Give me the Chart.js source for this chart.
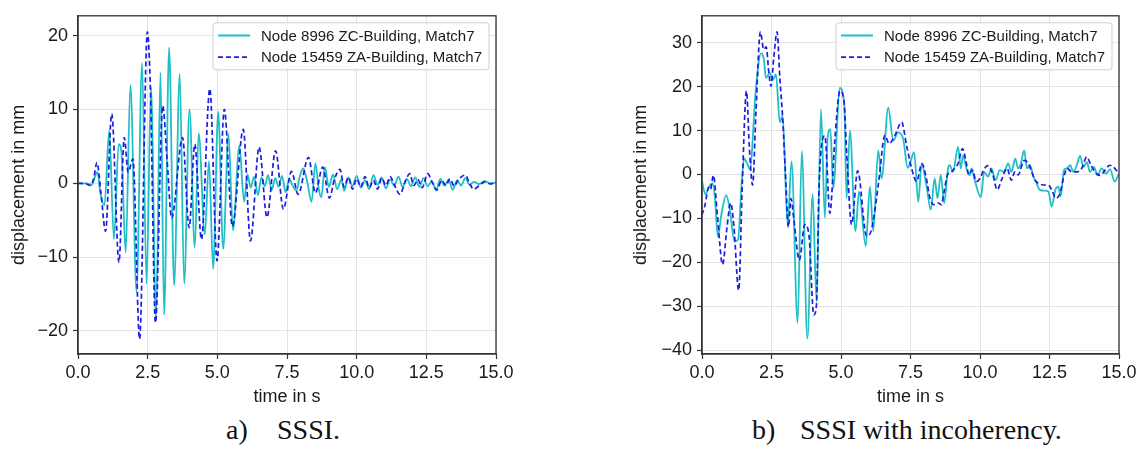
<!DOCTYPE html>
<html>
<head>
<meta charset="utf-8">
<script src="https://cdn.jsdelivr.net/npm/chart.js@4.4.0/dist/chart.umd.min.js"></script>
<style>
  body { margin: 0; background: #fff; width: 1143px; height: 450px; position: relative; overflow: hidden; }
  .plot { position: absolute; top: 0; width: 520px; height: 410px; }
  .cap { position: absolute; top: 414px; font-family: "Liberation Serif", "Times New Roman", serif; font-size: 28px; color: #111; white-space: pre; }
</style>
</head>
<body>
<div class="plot" style="left:0"><canvas id="chartA"></canvas></div>
<div class="plot" style="left:620px"><canvas id="chartB"></canvas></div>
<div class="cap" style="left:226px">a)</div>
<div class="cap" style="left:277px">SSSI.</div>
<div class="cap" style="left:752px">b)</div>
<div class="cap" style="left:800px">SSSI with incoherency.</div>

<script>
// [time in s, displacement in mm]
const sssiZC = [[0,0],[0.3,0],[0.5,-0.2],[0.62,1.0],[0.7,1.5],[0.8,-1.3],[0.95,-3.0],[1.12,7.2],[1.29,-7.6],[1.46,5.3],[1.56,4.2],[1.71,-9.4],[1.88,13.3],[2.10,-14.7],[2.30,16.3],[2.46,-13.6],[2.62,13.0],[2.80,-18.5],[2.96,15.0],[3.09,-17.8],[3.27,18.4],[3.45,-13.8],[3.65,14.8],[3.81,-13.6],[4.00,10.0],[4.19,-8.7],[4.33,6.8],[4.55,-6.9],[4.70,3.0],[4.85,-11.6],[5.03,9.7],[5.21,-8.9],[5.40,6.7],[5.56,-6.4],[5.79,5.1],[5.96,-2.5],[6.08,1.2],[6.2,-0.6],[6.32,0.9],[6.46,-1.6],[6.58,0.8],[6.7,-0.4],[6.82,1.1],[6.95,-0.9],[7.08,0.7],[7.2,-0.5],[7.32,1.0],[7.45,-1.2],[7.58,0.6],[7.7,-0.3],[7.84,-1.0],[7.95,0.8],[8.08,2.0],[8.22,0.3],[8.38,-2.5],[8.52,2.7],[8.64,-0.8],[8.73,-1.9],[8.86,2.2],[9.0,-0.5],[9.15,1.2],[9.3,-0.8],[9.45,0.5],[9.55,-1.0],[9.7,0.8],[9.85,-0.4],[10.0,1.0],[10.15,-0.6],[10.3,0.4],[10.45,-0.8],[10.6,1.1],[10.75,-0.2],[10.9,0.8],[11.05,-0.7],[11.2,0.5],[11.35,-0.3],[11.5,0.9],[11.65,-0.5],[11.8,0.6],[11.95,-0.4],[12.1,0.8],[12.25,-0.5],[12.4,0.7],[12.55,-0.4],[12.7,0.3],[12.85,-1.0],[13.0,0.6],[13.15,-0.3],[13.3,0.5],[13.45,-0.9],[13.6,0.4],[13.75,-0.3],[13.9,0.7],[14.05,-0.2],[14.2,0.2],[14.4,-0.1],[14.6,0.3],[14.8,0],[15,0.1]];
const sssiZA = [[0,0],[0.3,-0.1],[0.45,-0.3],[0.56,0.6],[0.68,2.8],[0.82,-1.2],[0.99,-6.5],[1.21,9.4],[1.47,-10.7],[1.66,6.2],[1.80,1.5],[1.97,3.3],[2.21,-21.1],[2.49,20.5],[2.60,12.5],[2.78,-18.9],[3.04,10.5],[3.20,3.0],[3.36,-4.7],[3.75,6.2],[3.99,-6.0],[4.19,5.3],[4.43,-7.6],[4.73,12.8],[4.99,-10.5],[5.25,10.0],[5.54,-5.8],[5.93,7.3],[6.19,-7.8],[6.50,4.9],[6.78,-4.6],[7.09,4.4],[7.37,-3.5],[7.66,1.6],[7.9,-1.5],[8.27,3.5],[8.52,-1.3],[8.78,2.2],[9.02,-2.0],[9.2,0.5],[9.40,1.9],[9.55,-0.5],[9.7,0.8],[9.85,-0.8],[10.0,0.6],[10.15,-0.5],[10.3,0.9],[10.45,-0.6],[10.6,0.4],[10.75,-0.8],[10.9,0.7],[11.05,-0.3],[11.2,0.9],[11.35,-0.2],[11.55,-1.5],[11.75,0.3],[11.9,1.3],[12.05,-0.3],[12.2,0.5],[12.35,-0.6],[12.55,1.3],[12.7,0.2],[12.88,-0.9],[13.05,0.4],[13.2,-0.3],[13.35,0.6],[13.5,-0.4],[13.65,0.5],[13.9,1.1],[14.05,0],[14.2,-0.8],[14.4,-0.3],[14.6,0.2],[14.8,-0.1],[15,0.2]];

const incohZC = [[0,-1.5],[0.12,-4.5],[0.25,-2.8],[0.38,-2.0],[0.46,-5.0],[0.57,-14.2],[0.7,-9.0],[0.87,-4.7],[1.0,-8.0],[1.17,-15.3],[1.30,-14.8],[1.42,-2.5],[1.52,3.6],[1.62,2.6],[1.72,1.2],[1.94,19.7],[2.12,27.6],[2.22,26.5],[2.30,22.0],[2.44,23.1],[2.54,21.5],[2.66,22.8],[2.80,11.9],[2.90,13.4],[3.08,-11.5],[3.22,3.0],[3.44,-33.8],[3.59,5.3],[3.79,-37.4],[3.98,-4.5],[4.12,-29.0],[4.28,14.9],[4.42,-9.9],[4.52,8.5],[4.62,10.3],[4.72,-3.1],[4.96,19.7],[5.12,15.6],[5.20,-5.4],[5.32,10.0],[5.52,-12.9],[5.65,-3.9],[5.89,-16.3],[6.04,-2.8],[6.16,-12.9],[6.34,5.5],[6.46,-0.9],[6.70,15.2],[6.88,7.7],[7.06,9.6],[7.24,8.0],[7.40,1.5],[7.50,3.0],[7.63,5.1],[7.78,-6.2],[7.90,2.5],[8.07,-2.4],[8.23,-8.0],[8.37,-0.9],[8.47,-5.4],[8.59,-0.1],[8.71,-6.5],[8.85,1.4],[8.91,2.1],[9.03,0.6],[9.21,6.3],[9.31,1.4],[9.39,4.4],[9.51,1.4],[9.63,-0.2],[9.69,1.4],[9.81,-1.3],[10.03,-5.2],[10.15,0.6],[10.29,-0.5],[10.41,1.4],[10.56,-1.3],[10.71,1.0],[10.87,0.6],[11.01,2.5],[11.13,0.6],[11.27,3.6],[11.37,1.4],[11.46,2.2],[11.59,5.5],[11.69,1.4],[11.80,2.1],[11.92,-0.5],[12.01,-1.6],[12.15,-3.5],[12.34,-3.7],[12.46,-3.9],[12.58,-7.3],[12.72,-3.3],[12.82,-2.8],[12.9,-5.0],[13.02,1.0],[13.14,1.4],[13.24,2.1],[13.36,0.6],[13.48,2.1],[13.6,4.3],[13.72,1.7],[13.84,2.8],[13.96,0.6],[14.1,1.7],[14.22,-0.2],[14.38,1.4],[14.53,0.2],[14.68,1.2],[14.84,-1.6],[15,0.2]];
const incohZA = [[0,-9.2],[0.1,-7.2],[0.24,-3.0],[0.30,-3.5],[0.41,-0.2],[0.55,-9.0],[0.74,-20.5],[0.9,-12.0],[1.03,-6.5],[1.15,-12.0],[1.32,-26.4],[1.45,-2.0],[1.60,19.0],[1.70,6.6],[1.82,-2.4],[1.94,14.1],[2.10,32.5],[2.22,28.5],[2.31,29.1],[2.40,23.5],[2.48,20.1],[2.58,26.5],[2.70,32.5],[2.80,22.0],[2.90,13.0],[3.0,0.5],[3.11,-12.0],[3.20,-5.5],[3.30,-10.0],[3.50,-19.5],[3.70,-11.4],[3.85,-14.0],[4.02,-32.0],[4.12,-29.5],[4.20,-5.0],[4.30,6.6],[4.42,8.8],[4.60,-8.8],[4.78,8.0],[4.96,19.0],[5.10,17.1],[5.22,3.0],[5.38,-11.4],[5.60,0.8],[5.92,-14.0],[6.10,-12.5],[6.35,-2.0],[6.58,8.9],[6.73,7.0],[6.94,8.9],[7.18,11.9],[7.36,6.6],[7.54,1.4],[7.72,-1.6],[7.91,2.5],[8.07,-0.9],[8.2,-5.4],[8.35,-6.9],[8.5,-6.5],[8.61,-6.9],[8.71,-3.9],[8.83,-0.1],[8.97,0.6],[9.09,1.4],[9.21,2.5],[9.37,5.9],[9.48,3.6],[9.6,-0.1],[9.72,1.0],[9.87,-1.6],[10.0,-0.9],[10.13,1.0],[10.28,2.0],[10.45,0.2],[10.62,-3.5],[10.77,-1.3],[10.97,1.4],[11.13,-1.3],[11.25,0.6],[11.37,-0.1],[11.59,3.2],[11.74,2.5],[11.86,0.6],[11.98,-1.3],[12.1,-2.0],[12.28,-2.4],[12.46,-2.4],[12.58,-3.5],[12.73,-5.4],[12.88,-4.3],[13.0,-0.9],[13.14,1.4],[13.3,0.6],[13.48,0.6],[13.66,1.4],[13.84,4.0],[13.99,2.1],[14.14,0.6],[14.32,-0.2],[14.5,1.0],[14.66,2.1],[14.8,1.7],[15,0.2]];

const labelZC = 'Node 8996 ZC-Building, Match7';
const labelZA = 'Node 15459 ZA-Building, Match7';
const xTicks = [0, 2.5, 5, 7.5, 10, 12.5, 15];
const yTicksA = [-20, -10, 0, 10, 20];
const yTicksB = [-40, -30, -20, -10, 0, 10, 20, 30];

Chart.defaults.font.family = '"Liberation Sans", Arial, sans-serif';
Chart.defaults.color = '#1a1a1a';

const textColor = '#1a1a1a';
const frameColor = '#333';

// draws the top/right frame and a matplotlib-like legend box
const framePlugin = {
    id: 'frame',
    afterDraw(chart) {
        const {ctx, chartArea: a} = chart;
        ctx.save();
        ctx.strokeStyle = frameColor;
        ctx.lineWidth = 1.3;
        ctx.strokeRect(a.left, a.top, a.right - a.left, a.bottom - a.top);

        ctx.font = '15px "Liberation Sans", Arial, sans-serif';
        const sets = chart.data.datasets;
        let tw = 0;
        sets.forEach(ds => { tw = Math.max(tw, ctx.measureText(ds.label).width); });
        const w = 48 + tw + 7;
        const h = 47;
        const x0 = a.right - 7 - w;
        const y0 = a.top + 7;
        ctx.beginPath();
        ctx.roundRect(x0, y0, w, h, 3);
        ctx.fillStyle = 'rgba(255,255,255,0.85)';
        ctx.fill();
        ctx.strokeStyle = '#cfcfcf';
        ctx.lineWidth = 1;
        ctx.stroke();

        sets.forEach((ds, i) => {
            const yy = y0 + 12.7 + i * 21.6;
            ctx.beginPath();
            ctx.setLineDash(ds.borderDash || []);
            ctx.strokeStyle = ds.borderColor;
            ctx.lineWidth = ds.borderWidth;
            ctx.moveTo(x0 + 5, yy);
            ctx.lineTo(x0 + 37, yy);
            ctx.stroke();
            ctx.setLineDash([]);
            ctx.fillStyle = textColor;
            ctx.textBaseline = 'middle';
            ctx.textAlign = 'left';
            ctx.fillText(ds.label, x0 + 48, yy + 1);
        });
        ctx.restore();
    }
};

function toPoints(pairs) {
    return pairs.map(([t, d]) => ({x: t, y: d}));
}

function fmtY(v) {
    return v < 0 ? '\u2212' + Math.abs(v) : String(v);
}

function makeChart(id, zc, za, yMin, yMax, yTicks, yAxisWidth, padRight, yTitlePad) {
    const ctx = document.getElementById(id).getContext('2d');
    return new Chart(ctx, {
        type: 'line',
        data: {
            datasets: [
                {
                    label: labelZC,
                    data: toPoints(zc),
                    borderColor: '#1fbfc5',
                    borderWidth: 1.8,
                    pointRadius: 0,
                    cubicInterpolationMode: 'monotone',
                    order: 1
                },
                {
                    label: labelZA,
                    data: toPoints(za),
                    borderColor: '#1c1ce3',
                    borderWidth: 1.7,
                    borderDash: [5, 3],
                    pointRadius: 0,
                    cubicInterpolationMode: 'monotone',
                    order: 0
                }
            ]
        },
        options: {
            responsive: true,
            maintainAspectRatio: false,
            animation: false,
            devicePixelRatio: 1,
            layout: { padding: { top: 12, right: padRight, bottom: 0, left: 0 } },
            plugins: { legend: { display: false }, tooltip: { enabled: false } },
            scales: {
                x: {
                    type: 'linear',
                    min: 0,
                    max: 15,
                    afterBuildTicks: s => { s.ticks = xTicks.map(v => ({value: v})); },
                    afterFit: s => { s.height = 56; },
                    ticks: {
                        font: { size: 18 },
                        color: textColor,
                        padding: 3,
                        maxRotation: 0,
                        callback: v => Number(v).toFixed(1)
                    },
                    grid: { color: '#e4e4e4', lineWidth: 1, drawTicks: true, tickLength: 5, tickColor: frameColor, tickWidth: 1.2 },
                    border: { color: frameColor, width: 1.3 },
                    title: { display: true, text: 'time in s', font: { size: 18 }, color: textColor, padding: { top: 0, bottom: 2 } }
                },
                y: {
                    type: 'linear',
                    min: yMin,
                    max: yMax,
                    afterBuildTicks: s => { s.ticks = yTicks.map(v => ({value: v})); },
                    afterFit: s => { s.width = yAxisWidth; },
                    ticks: {
                        font: { size: 18 },
                        color: textColor,
                        padding: 5,
                        callback: v => fmtY(v)
                    },
                    grid: { color: '#e4e4e4', lineWidth: 1, drawTicks: true, tickLength: 5, tickColor: frameColor, tickWidth: 1.2 },
                    border: { color: frameColor, width: 1.3 },
                    title: { display: true, text: 'displacement in mm', font: { size: 18 }, color: textColor, padding: { top: yTitlePad, bottom: 0 } }
                }
            }
        },
        plugins: [framePlugin]
    });
}

makeChart('chartA', sssiZC, sssiZA, -23.12, 22.68, yTicksA, 78, 24, 8);
makeChart('chartB', incohZC, incohZA, -40.9, 36.15, yTicksB, 82, 21, 10);
</script>
</body>
</html>
